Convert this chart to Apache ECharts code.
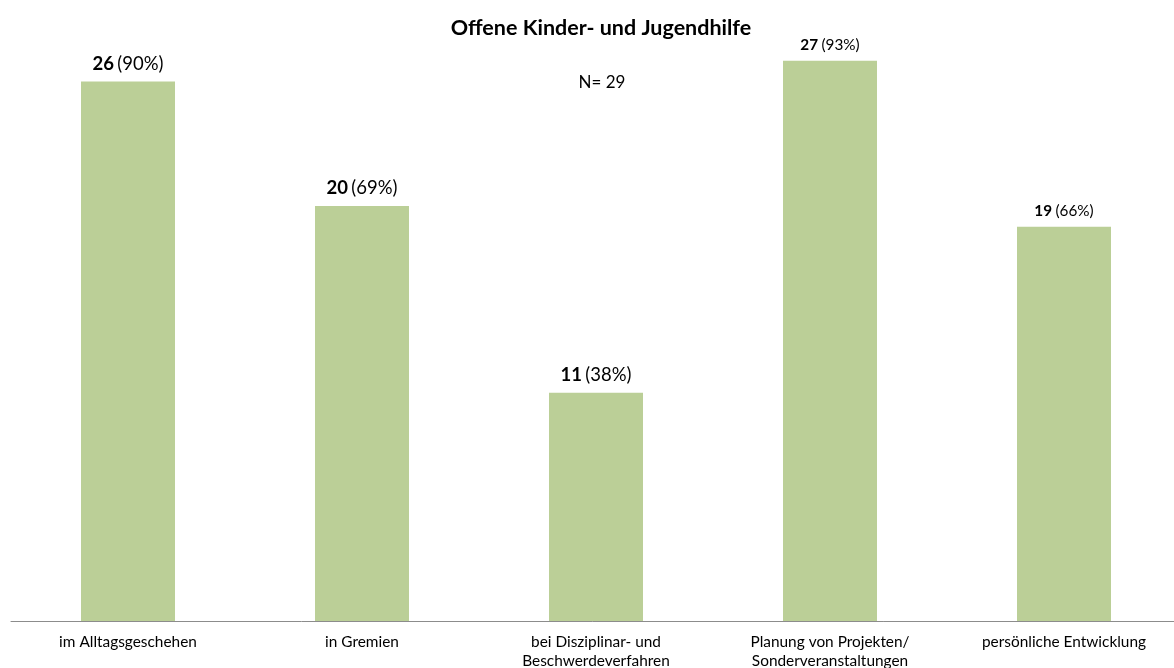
<!DOCTYPE html>
<html>
<head>
<meta charset="utf-8">
<script src="https://cdn.jsdelivr.net/npm/echarts@6/dist/echarts.min.js"></script>
<style>
  html, body { margin: 0; padding: 0; background: #fff; }
  #chart { width: 1174px; height: 668px; }
</style>
</head>
<body>
<div id="chart"></div>
<script>
const categories = [
  'im Alltagsgeschehen',
  'in Gremien',
  'bei Disziplinar- und\nBeschwerdeverfahren',
  'Planung von Projekten/\nSonderveranstaltungen',
  'persönliche Entwicklung'
];
const counts = [26, 20, 11, 27, 19];
const percents = [90, 69, 38, 93, 66];
// the last two labels are set in a smaller size in the original
const labelSizes = [18.5, 18.5, 18.5, 15.3, 15.3];

const font = 'Lato';
const chart = echarts.init(document.getElementById('chart'));

const seriesData = counts.map((v, i) => ({
  value: v,
  label: {
    rich: {
      b: { fontFamily: font, fontWeight: 'bold', fontSize: labelSizes[i], color: '#000' },
      n: { fontFamily: font, fontSize: labelSizes[i], color: '#000' }
    }
  }
}));

chart.setOption({
  animation: false,
  title: [
    {
      text: 'Offene Kinder- und Jugendhilfe',
      left: 596, top: 12, textAlign: 'center',
      textStyle: { fontFamily: font, fontSize: 21.5, fontWeight: 'bold', color: '#000' }
    },
    {
      text: 'N= 29',
      left: 597, top: 69, textAlign: 'center',
      textStyle: { fontFamily: font, fontSize: 17, fontWeight: 'normal', color: '#000' }
    }
  ],
  grid: {
    left: 11, top: -1.5, width: 1170, height: 622.5,
    containLabel: false, outerBoundsMode: 'none'
  },
  xAxis: {
    type: 'category',
    data: categories,
    axisLine: { lineStyle: { color: '#8c8c8c', width: 1 } },
    axisTick: { show: false },
    axisLabel: {
      interval: 0, margin: 12, color: '#000',
      fontFamily: font, fontSize: 15.4, lineHeight: 19
    }
  },
  yAxis: {
    type: 'value', min: 0, max: 30,
    show: false,
    splitLine: { show: false }
  },
  series: [{
    type: 'bar',
    data: seriesData,
    barWidth: 94,
    itemStyle: { color: '#bbcf97' },
    label: {
      show: true,
      position: 'top',
      distance: 8,
      formatter: p => `{b|${counts[p.dataIndex]}} {n|(${percents[p.dataIndex]}%)}`
    }
  }]
});
</script>
</body>
</html>
